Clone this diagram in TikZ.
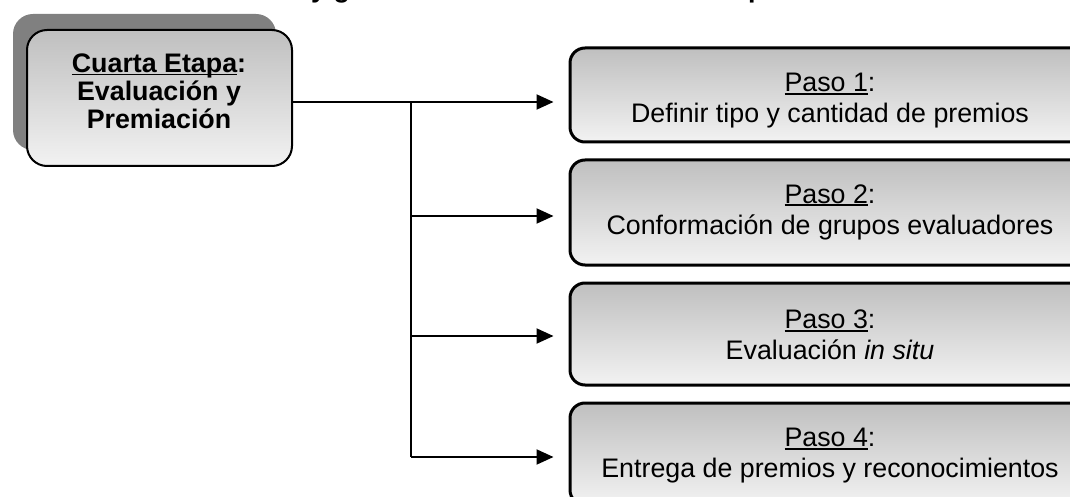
\documentclass[tikz,border=0pt]{standalone}
\usepackage{fontspec}
\setmainfont{Liberation Sans}
\usetikzlibrary{arrows.meta}
\definecolor{shadowgray}{gray}{0.5}
\definecolor{topgray}{gray}{0.75}
\definecolor{botgray}{gray}{0.95}
\newcommand\myul[1]{\setbox0\hbox{#1}\rlap{\rule[-3pt]{\wd0}{1.6pt}}\box0}
\tikzset{
  stagebox/.style={draw=black, line width=2pt, rounded corners=20pt,
    top color=topgray, bottom color=botgray, inner sep=0pt},
  stepbox/.style={draw=black, line width=3pt, rounded corners=15pt,
    top color=topgray, bottom color=botgray, inner sep=0pt,
    minimum width=520pt},
  boxtext/.style={align=center, inner sep=0pt,
    font=\fontsize{26.8}{31}\selectfont},
  conn/.style={line width=2pt},
  arr/.style={line width=2pt, -{Triangle[length=17pt,width=15pt]}}
}
\begin{document}
\begin{tikzpicture}[x=1pt,y=-1pt]
\useasboundingbox (0,0) rectangle (1070,497);
\begin{scope}
\clip (0,0) rectangle (1070,497);
% fragments of the cropped title
\node[anchor=base west, inner sep=0pt, font=\fontsize{26.8}{31}\selectfont\bfseries] (tt1) at (311,-2.8) {y g};
\node[anchor=base west, inner sep=0pt, font=\fontsize{26.8}{31}\selectfont\bfseries] (tt2) at (748,-2.8) {p};
% stage box
\fill[shadowgray, rounded corners=20pt] (13,14) rectangle (276,150);
\node[stagebox, minimum width=265pt, minimum height=136pt] (stage) at (159.5,98) {};
\node[boxtext, font=\fontsize{26.8}{28}\selectfont\bfseries] (stagetext) at (159,91)
  {\myul{Cuarta Etapa}:\\Evaluación y\\Premiación};
% step boxes
\node[stepbox, minimum height=94pt] (b1) at (830,95) {};
\node[stepbox, minimum height=105pt] (b2) at (830,212.5) {};
\node[stepbox, minimum height=102pt] (b3) at (830,334) {};
\node[stepbox, minimum height=102pt] (b4) at (830,454) {};
\node[boxtext] (t1) at (830,101) {\myul{Paso 1}:\\Definir tipo y cantidad de premios};
\node[boxtext] (t2) at (830,212) {\myul{Paso 2}:\\Conformación de grupos evaluadores};
\node[boxtext] (t3) at (830,335) {\myul{Paso 3}:\\Evaluación \textit{in situ}};
\node[boxtext] (t4) at (830,456) {\myul{Paso 4}:\\Entrega de premios y reconocimientos};
% connectors
\coordinate (j1) at (411,102);
\coordinate (j2) at (411,216);
\coordinate (j3) at (411,336);
\coordinate (j4) at (411,457);
\draw[conn] (stage.east |- j1) -- (j1);
\draw[conn] (j1) -- (j4);
\draw[arr, shorten >=15pt] (j1) -- (b1.west |- j1);
\draw[arr, shorten >=15pt] (j2) -- (b2.west |- j2);
\draw[arr, shorten >=15pt] (j3) -- (b3.west |- j3);
\draw[arr, shorten >=15pt] (j4) -- (b4.west |- j4);
\end{scope}
\end{tikzpicture}
\end{document}
